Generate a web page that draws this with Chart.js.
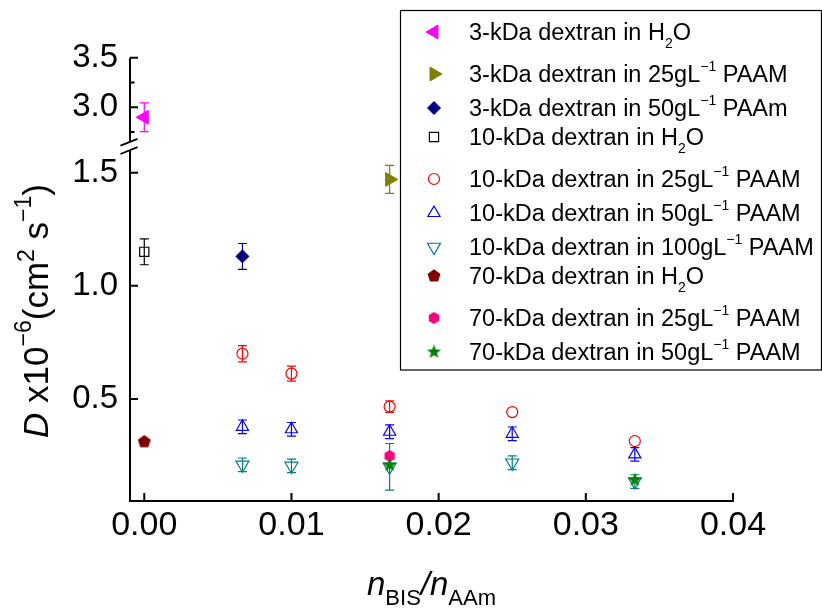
<!DOCTYPE html>
<html>
<head>
<meta charset="utf-8">
<script src="https://cdn.jsdelivr.net/npm/chart.js@4.4.0/dist/chart.umd.min.js"></script>
<style>
html, body { margin: 0; padding: 0; background: #fff; }
</style>
</head>
<body>
<canvas id="diffChart" width="822" height="614"></canvas>
<script>
// n_BIS / n_AAm ratios used for the gel series
const bisRatios = [0.00667, 0.01, 0.01667, 0.025, 0.03333];

// D x 1e-6 cm^2/s (value, error; 0 = bar hidden by the marker)
const dex3Water = [2.90], dex3WaterErr = [0.145], dex3WaterX = [0];
const dex3Gel25 = [1.47], dex3Gel25Err = [0.062], dex3Gel25X = [0.01667];
const dex3Gel50 = [1.13], dex3Gel50Err = [0.057], dex3Gel50X = [0.00667];
const dex10Water = [1.15], dex10WaterErr = [0.057], dex10WaterX = [0];
const dex10Gel25 = [0.700, 0.612, 0.466, 0.442, 0.314];
const dex10Gel25Err = [0.036, 0.033, 0.026, 0, 0];
const dex10Gel50 = [0.377, 0.366, 0.355, 0.346, 0.255];
const dex10Gel50Err = [0.03, 0.03, 0.03, 0.03, 0.03];
const dex10Gel100 = [0.209, 0.204, 0.200, 0.218, 0.135];
const dex10Gel100Err = [0.03, 0.03, 0.103, 0.03, 0.03];
const dex70Water = [0.311], dex70WaterErr = [0], dex70WaterX = [0];
const dex70Gel25 = [0.248], dex70Gel25Err = [0], dex70Gel25X = [0.01667];
const dex70Gel50 = [0.208, 0.142], dex70Gel50Err = [0, 0], dex70Gel50X = [0.01667, 0.03333];

const legendLabels = [
	"3-kDa dextran in H_{2}O",
	"3-kDa dextran in 25gL^{\u22121} PAAM",
	"3-kDa dextran in 50gL^{\u22121} PAAm",
	"10-kDa dextran in H_{2}O",
	"10-kDa dextran in 25gL^{\u22121} PAAM",
	"10-kDa dextran in 50gL^{\u22121} PAAM",
	"10-kDa dextran in 100gL^{\u22121} PAAM",
	"70-kDa dextran in H_{2}O",
	"70-kDa dextran in 25gL^{\u22121} PAAM",
	"70-kDa dextran in 50gL^{\u22121} PAAM",
];

// tick values
const xTicks = [0, 0.01, 0.02, 0.03, 0.04];
const lowerTicks = [0.5, 1.0, 1.5];
const upperTicks = [2.75, 3.0, 3.25, 3.5];
const upperLabeled = [3.0, 3.5];

const FONT = "'Liberation Sans', Arial, Helvetica, sans-serif";

/**
 * Small filled polygons for the marker shapes Chart.js doesn't have
 */
function shapeCanvas(kind, color, r) {
	const s = Math.ceil(r * 2 + 2);
	const c = document.createElement("canvas");
	c.width = s;
	c.height = s;
	const g = c.getContext("2d");
	g.translate(s / 2, s / 2);
	g.beginPath();
	if (kind === "star") {
		for (let i = 0; i < 10; i++) {
			const rr = i % 2 ? r * 0.42 : r;
			const a = -Math.PI / 2 + (i * Math.PI) / 5;
			g.lineTo(Math.cos(a) * rr, Math.sin(a) * rr);
		}
	} else {
		const n = kind === "pentagon" ? 5 : 6;
		for (let i = 0; i < n; i++) {
			const a = -Math.PI / 2 + (i * 2 * Math.PI) / n;
			g.lineTo(Math.cos(a) * r, Math.sin(a) * r);
		}
	}
	g.closePath();
	g.fillStyle = color;
	g.fill();
	return c;
}

function series(idx, xs, ys, errs, color, style, axis) {
	return {
		label: legendLabels[idx],
		data: xs.map((x, i) => ({ x: x, y: ys[i], err: errs[i] })),
		yAxisID: axis,
		order: 20 - idx,
		borderColor: color,
		backgroundColor: style.open ? "rgba(0,0,0,0)" : color,
		pointStyle: style.shape,
		pointRadius: style.r,
		pointRotation: style.rot || 0,
		pointBorderWidth: style.open ? 1.2 : 1,
		showLine: false,
	};
}

const datasets = [
	series(0, dex3WaterX, dex3Water, dex3WaterErr, "#ff00ff", { shape: "triangle", r: 8, rot: -90 }, "yUp"),
	series(1, dex3Gel25X, dex3Gel25, dex3Gel25Err, "#808000", { shape: "triangle", r: 8, rot: 90 }, "yLo"),
	series(2, dex3Gel50X, dex3Gel50, dex3Gel50Err, "#000080", { shape: "rectRot", r: 6.5 }, "yLo"),
	series(3, dex10WaterX, dex10Water, dex10WaterErr, "#000000", { shape: "rect", r: 6.5, open: true }, "yLo"),
	series(4, bisRatios, dex10Gel25, dex10Gel25Err, "#ff0000", { shape: "circle", r: 5.5, open: true }, "yLo"),
	series(5, bisRatios, dex10Gel50, dex10Gel50Err, "#0000ff", { shape: "triangle", r: 7, open: true }, "yLo"),
	series(6, bisRatios, dex10Gel100, dex10Gel100Err, "#008080", { shape: "triangle", r: 7.5, rot: 180, open: true }, "yLo"),
	series(7, dex70WaterX, dex70Water, dex70WaterErr, "#800000", { shape: shapeCanvas("pentagon", "#800000", 6.8), r: 6 }, "yLo"),
	series(8, dex70Gel25X, dex70Gel25, dex70Gel25Err, "#ff0080", { shape: shapeCanvas("hexagon", "#ff0080", 6), r: 6 }, "yLo"),
	series(9, dex70Gel50X, dex70Gel50, dex70Gel50Err, "#008000", { shape: shapeCanvas("star", "#008000", 7.5), r: 7 }, "yLo"),
];

// draw text with sub/superscripts, left aligned at baseline y
function richWidth(ctx, segs) {
	let w = 0;
	segs.forEach((s) => {
		ctx.font = (s.italic ? "italic " : "") + s.size + "px " + FONT;
		w += ctx.measureText(s.text).width;
	});
	return w;
}
function drawRich(ctx, segs, x, y) {
	let cx = x;
	segs.forEach((s) => {
		ctx.font = (s.italic ? "italic " : "") + s.size + "px " + FONT;
		ctx.fillText(s.text, cx, y + (s.dy || 0));
		cx += ctx.measureText(s.text).width;
	});
	return cx - x;
}
function parseLabel(text, size) {
	return text.split(/(_\{[^}]*\}|\^\{[^}]*\})/).filter((p) => p).map((p) => {
		if (p[0] === "_") return { text: p.slice(2, -1), size: 14, dy: 8 };
		if (p[0] === "^") return { text: p.slice(2, -1), size: 14, dy: -11 };
		return { text: p, size: size };
	});
}

const errorBars = {
	id: "errorBars",
	beforeDatasetsDraw(chart) {
		const ctx = chart.ctx;
		ctx.save();
		chart.data.datasets.forEach((ds, i) => {
			const meta = chart.getDatasetMeta(i);
			const yScale = chart.scales[ds.yAxisID];
			ds.data.forEach((pt, j) => {
				if (!pt.err) return;
				const px = meta.data[j].x;
				const top = yScale.getPixelForValue(pt.y + pt.err);
				const bot = yScale.getPixelForValue(pt.y - pt.err);
				ctx.strokeStyle = ds.borderColor;
				ctx.lineWidth = 1.2;
				ctx.beginPath();
				ctx.moveTo(px, top);
				ctx.lineTo(px, bot);
				ctx.moveTo(px - 4.5, top);
				ctx.lineTo(px + 4.5, top);
				ctx.moveTo(px - 4.5, bot);
				ctx.lineTo(px + 4.5, bot);
				ctx.stroke();
			});
		});
		ctx.restore();
	},
};

// axis lines, inward ticks and the axis break
const axesFrame = {
	id: "axesFrame",
	afterDraw(chart) {
		const ctx = chart.ctx;
		const area = chart.chartArea;
		const xs = chart.scales.x;
		ctx.save();
		ctx.strokeStyle = "#000";
		ctx.lineWidth = 2;
		ctx.beginPath();
		ctx.moveTo(area.left - 1, area.bottom);
		ctx.lineTo(area.right + 1, area.bottom);
		xs.ticks.forEach((t) => {
			const p = xs.getPixelForValue(t.value);
			ctx.moveTo(p, area.bottom);
			ctx.lineTo(p, area.bottom - 8);
		});
		["yUp", "yLo"].forEach((id) => {
			const s = chart.scales[id];
			ctx.moveTo(area.left, s.top);
			ctx.lineTo(area.left, s.bottom);
			s.ticks.forEach((t) => {
				const p = s.getPixelForValue(t.value);
				ctx.moveTo(area.left, p);
				ctx.lineTo(area.left + (t.label ? 8 : 4.5), p);
			});
		});
		ctx.stroke();

		// break marks
		const b = chart.scales.yLo.top;
		ctx.fillStyle = "#fff";
		ctx.fillRect(area.left - 3, b - 3.5, 6, 8);
		ctx.lineWidth = 1.8;
		ctx.beginPath();
		[-3.6, 4.7].forEach((off) => {
			ctx.moveTo(area.left - 9.5, b + off + 3.8);
			ctx.lineTo(area.left + 7.5, b + off - 3);
		});
		ctx.stroke();
		ctx.restore();
	},
};

const titlesAndLegend = {
	id: "titlesAndLegend",
	afterDraw(chart) {
		const ctx = chart.ctx;
		const area = chart.chartArea;
		ctx.save();
		ctx.fillStyle = "#000";
		ctx.textBaseline = "alphabetic";

		// y axis title
		const ySegs = [
			{ text: "D", size: 35, italic: true },
			{ text: " x10", size: 35 },
			{ text: "\u22126", size: 23, dy: -17 },
			{ text: "(cm", size: 35 },
			{ text: "2", size: 23, dy: -14 },
			{ text: " s", size: 35 },
			{ text: "\u22121", size: 23, dy: -17 },
			{ text: ")", size: 35 },
		];
		ctx.save();
		ctx.translate(48, 311);
		ctx.rotate(-Math.PI / 2);
		drawRich(ctx, ySegs, -richWidth(ctx, ySegs) / 2, 0);
		ctx.restore();

		// x axis title
		const xSegs = [
			{ text: "n", size: 33, italic: true },
			{ text: "BIS", size: 22, dy: 10 },
			{ text: "/", size: 33, italic: true },
			{ text: "n", size: 33, italic: true },
			{ text: "AAm", size: 22, dy: 10 },
		];
		const cx = (area.left + area.right) / 2;
		drawRich(ctx, xSegs, cx - richWidth(ctx, xSegs) / 2, 595);

		// legend
		ctx.fillStyle = "#fff";
		ctx.fillRect(400.5, 10.5, 421, 359.5);
		ctx.strokeStyle = "#000";
		ctx.lineWidth = 1.2;
		ctx.strokeRect(400.5, 10.5, 421, 359.5);
		let rowY = 32;
		let prevSub = false;
		chart.data.datasets.forEach((ds, i) => {
			const hasSub = ds.label.includes("_{");
			const hasSup = ds.label.includes("^{");
			if (i > 0) rowY += 29 + (prevSub ? 13 : 0) + (hasSup && !prevSub ? 5 : 0);
			prevSub = hasSub;
			ctx.fillStyle = ds.backgroundColor;
			ctx.strokeStyle = ds.borderColor;
			ctx.lineWidth = ds.pointBorderWidth;
			Chart.helpers.drawPoint(ctx, {
				pointStyle: ds.pointStyle,
				rotation: ds.pointRotation,
				radius: ds.pointRadius,
				borderWidth: ds.pointBorderWidth,
			}, 434, rowY);
			ctx.fillStyle = "#000";
			drawRich(ctx, parseLabel(ds.label, 23.5), 469, rowY + 8);
		});
		ctx.restore();
	},
};

const config = {
	type: "scatter",
	data: { datasets: datasets },
	options: {
		responsive: false,
		animation: false,
		events: [],
		layout: { padding: { left: 0, right: 89, top: 57.7, bottom: 0 } },
		plugins: { legend: { display: false }, tooltip: { enabled: false } },
		scales: {
			x: {
				type: "linear",
				min: -0.00097,
				max: 0.04,
				afterBuildTicks: (s) => { s.ticks = xTicks.map((v) => ({ value: v })); },
				afterFit: (s) => { s.height = 113; },
				ticks: {
					callback: (v) => v.toFixed(2),
					font: { size: 34, family: FONT },
					color: "#000",
					padding: 4,
					autoSkip: false,
					maxRotation: 0,
				},
				grid: { display: false, drawTicks: false },
				border: { display: false },
			},
			// stacked scales are placed top-down in reverse order of definition
			yLo: {
				type: "linear",
				position: "left",
				stack: "y",
				stackWeight: 355.5,
				min: 0.049,
				max: 1.62,
				afterBuildTicks: (s) => { s.ticks = lowerTicks.map((v) => ({ value: v })); },
				afterFit: (s) => { s.width = 130; },
				ticks: {
					callback: (v) => v.toFixed(1),
					font: { size: 33, family: FONT },
					color: "#000",
					padding: 12,
					autoSkip: false,
				},
				grid: { display: false, drawTicks: false },
				border: { display: false },
			},
			yUp: {
				type: "linear",
				position: "left",
				stack: "y",
				stackWeight: 87.8,
				min: 2.615,
				max: 3.5,
				afterBuildTicks: (s) => { s.ticks = upperTicks.map((v) => ({ value: v })); },
				afterFit: (s) => { s.width = 130; },
				ticks: {
					callback: (v) => (upperLabeled.includes(v) ? v.toFixed(1) : ""),
					font: { size: 33, family: FONT },
					color: "#000",
					padding: 12,
					autoSkip: false,
				},
				grid: { display: false, drawTicks: false },
				border: { display: false },
			},
		},
	},
	plugins: [errorBars, axesFrame, titlesAndLegend],
};

window.diffChartObj = new Chart(document.getElementById("diffChart"), config);
</script>
</body>
</html>
